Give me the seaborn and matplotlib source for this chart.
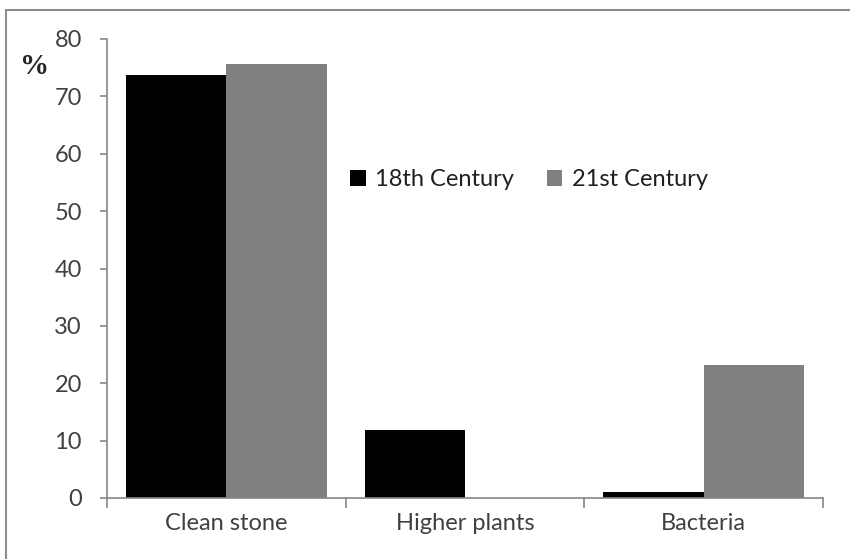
import pandas as pd
import seaborn as sns
import matplotlib.pyplot as plt
from matplotlib.patches import Rectangle
from matplotlib.ticker import FixedLocator

# DATA ---------------------------------------------------------------------------------------------
categories = ['Clean stone', 'Higher plants', 'Bacteria']
series = ['18th Century', '21st Century']
century_18 = [73.7, 11.9, 1.1]
century_21 = [75.6, 0.0, 23.2]
y_ticks = [0, 10, 20, 30, 40, 50, 60, 70, 80]

df = pd.DataFrame({
    'category': categories * 2,
    'century': [series[0]] * 3 + [series[1]] * 3,
    'value': century_18 + century_21,
})

# PLOT ---------------------------------------------------------------------------------------------
sns.set_style('white')
plt.rcParams['font.family'] = ['Lato', 'DejaVu Sans']

fig = plt.figure(figsize=(8.5, 5.59), dpi=100)
ax = fig.add_axes([107 / 850, 1 - 498 / 559, 716 / 850, 459 / 559])

sns.barplot(data=df, x='category', y='value', hue='century', order=categories,
            hue_order=series, palette=['#000000', '#808080'], width=0.84, gap=0,
            saturation=1, linewidth=0, ax=ax)

axis_col = '#868686'
ax.set_xlim(-0.5, 2.5)
ax.set_ylim(0, 80)
ax.set_yticks(y_ticks)
ax.set_xlabel('')
ax.set_ylabel('')
for side in ['top', 'right']:
    ax.spines[side].set_visible(False)
for side in ['left', 'bottom']:
    ax.spines[side].set_color(axis_col)
    ax.spines[side].set_linewidth(1.2)

ax.tick_params(axis='y', which='major', left=True, length=5, width=1.2, color=axis_col,
               pad=13, labelsize=17, labelcolor='#404040')
ax.tick_params(axis='x', which='major', length=0, pad=11, labelsize=17, labelcolor='#404040')
ax.xaxis.set_minor_locator(FixedLocator([-0.5, 0.5, 1.5, 2.5]))
ax.tick_params(axis='x', which='minor', bottom=True, length=7, width=1.2, color=axis_col)

ax.legend(loc='center left', bbox_to_anchor=(0.31, 0.693), ncol=2, frameon=False,
          fontsize=17, handlelength=0.65, handleheight=0.65, handletextpad=0.4,
          columnspacing=1.4, labelcolor='#202020')

fig.text(35 / 850, 1 - 66 / 559, '%', family='Liberation Serif', fontweight='bold',
         fontsize=21, ha='center', va='center')

# frame around the whole chart
fig.patches.append(Rectangle((6 / 850, -0.1), 1.2, 1 - 10 / 559 + 0.1, transform=fig.transFigure,
                             fill=False, edgecolor='#8c8c8c', linewidth=1.5))

fig.savefig('out.png', dpi=100)
